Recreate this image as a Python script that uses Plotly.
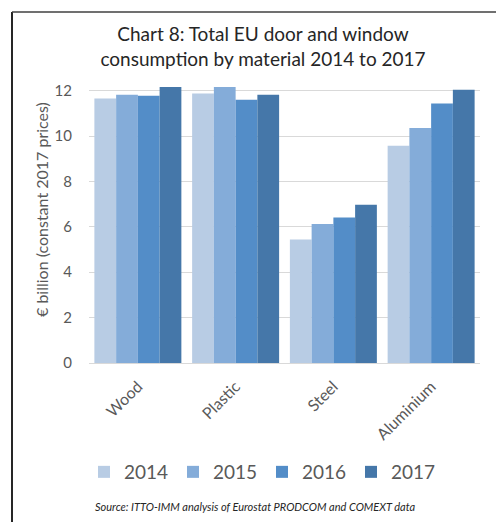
import plotly.graph_objects as go

categories = ["Wood", "Plastic", "Steel", "Aluminium"]
years = ["2014", "2015", "2016", "2017"]
v2014 = [11.66, 11.88, 5.44, 9.57]
v2015 = [11.82, 12.16, 6.12, 10.35]
v2016 = [11.78, 11.60, 6.41, 11.43]
v2017 = [12.16, 11.82, 6.97, 12.04]
series = [v2014, v2015, v2016, v2017]
colors = ["#B8CCE4", "#84ACD9", "#538DC8", "#4577A9"]
y_ticks = [0, 2, 4, 6, 8, 10, 12]

W, H = 496, 522
L, R, T, B = 89, 16, 85, 159
pw, ph = W - L - R, H - T - B

fig = go.Figure()
for yr, vals, c in zip(years, series, colors):
    fig.add_trace(go.Bar(x=categories, y=vals, name=yr, marker=dict(color=c, line=dict(width=0))))

def px2paper(x, y):
    return (x - L) / pw, (H - B - y) / ph

x0, y0 = px2paper(12, 12)
x1, y1 = px2paper(496, 522)

fig.update_layout(
    width=W, height=H,
    margin=dict(l=L, r=R, t=T, b=B, autoexpand=False),
    paper_bgcolor="white", plot_bgcolor="white",
    font=dict(family="Lato, Open Sans, sans-serif", color="#595959"),
    barmode="group", bargap=0.11, bargroupgap=0,
    title=dict(text="Chart 8: Total EU door and window<br>consumption by material 2014 to 2017",
               x=(263) / W, xanchor="center", y=1 - 41 / H, yanchor="top",
               font=dict(size=19, color="#262626")),
    xaxis=dict(tickangle=-45, tickfont=dict(size=16, color="#595959"), showline=True,
               linecolor="#D9D9D9", linewidth=1, ticks="", automargin=False, ticklabelstandoff=7),
    yaxis=dict(range=[0, 12.25], tickvals=y_ticks, tickfont=dict(size=15, color="#595959"),
               showgrid=True, gridcolor="#D9D9D9", gridwidth=1, zeroline=False,
               ticklabelstandoff=16, automargin=False),
    legend=dict(orientation="h", x=(262 - L) / pw, xanchor="center", y=px2paper(0, 472)[1], yanchor="middle",
                font=dict(size=19, color="#595959"), itemwidth=30, traceorder="normal",
                entrywidth=44, entrywidthmode="pixels"),
    showlegend=True,
)

yx, yy = px2paper(41, 210)
fig.add_annotation(text="€ billion (constant 2017 prices)", textangle=-90,
                   xref="paper", yref="paper", x=yx, y=yy, showarrow=False,
                   font=dict(size=16, color="#595959"), xanchor="center", yanchor="middle")

fig.add_annotation(text="<i>Source: ITTO-IMM analysis of Eurostat PRODCOM and COMEXT data</i>",
                   xref="paper", yref="paper", x=(255 - L) / pw, y=px2paper(0, 507)[1],
                   showarrow=False, font=dict(size=11, color="#262626"), xanchor="center", yanchor="middle")

fig.add_shape(type="line", xref="paper", yref="paper", x0=x0, y0=y0, x1=x0, y1=y1,
              line=dict(color="#262626", width=2))
fig.add_shape(type="line", xref="paper", yref="paper", x0=x0, y0=y0, x1=x1, y1=y0,
              line=dict(color="#404040", width=1.5))

fig.write_html("out.html", config={"displayModeBar": False},
               post_script="document.body.style.margin='0';document.body.style.overflow='hidden';")
